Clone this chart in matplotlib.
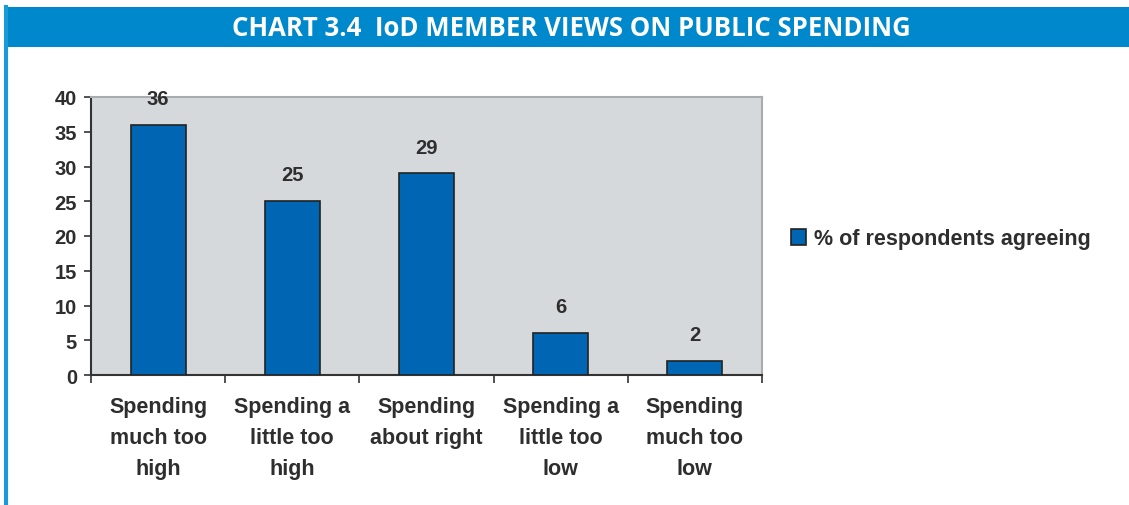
import matplotlib
matplotlib.use("Agg")
import matplotlib.pyplot as plt
from matplotlib.patches import Rectangle
from matplotlib.lines import Line2D

categories = ["Spending\nmuch too\nhigh", "Spending a\nlittle too\nhigh", "Spending\nabout right",
              "Spending a\nlittle too\nlow", "Spending\nmuch too\nlow"]
values = [36, 25, 29, 6, 2]
series_name = "% of respondents agreeing"
yticks = [0, 5, 10, 15, 20, 25, 30, 35, 40]
title = "CHART 3.4  IoD MEMBER VIEWS ON PUBLIC SPENDING"

BAR = "#0066B3"
HEADER = "#0088CC"
PANEL = "#D5D9DC"
TEXT = "#2E2E2E"

plt.rcParams["font.family"] = ["Liberation Sans", "DejaVu Sans"]

fig = plt.figure(figsize=(11.29, 5.06), dpi=100)
fig.patch.set_facecolor("white")

# header band and left rule
fig.patches.append(Rectangle((4 / 1129, 1 - 48 / 506), 1, 40 / 506, transform=fig.transFigure,
                             facecolor=HEADER, edgecolor="none", zorder=0))
fig.lines.append(Line2D([5.5 / 1129, 5.5 / 1129], [0, 1 - 8 / 506], transform=fig.transFigure,
                        color="#1A9AD8", lw=3, zorder=1))
fig.text(571 / 1129, 1 - 28 / 506, title, color="white", fontsize=18.5, fontweight="bold",
         family=["Open Sans", "DejaVu Sans"], ha="center", va="center")

ax = fig.add_axes([91 / 1129, 1 - 376 / 506, 671 / 1129, 278 / 506])
ax.set_facecolor(PANEL)
x = list(range(len(values)))
bars = ax.bar(x, values, width=0.41, color=BAR, edgecolor="#222222", linewidth=1.2,
              label=series_name, zorder=3)
for xi, v in zip(x, values):
    ax.annotate(f"{v}", (xi, v), xytext=(0, 19), textcoords="offset points",
                ha="center", va="center", fontsize=14.5, fontweight="bold", color=TEXT)

ax.set_xlim(-0.5, len(values) - 0.5)
ax.set_ylim(0, 40)
ax.set_yticks(yticks)
ax.set_yticklabels([str(t) for t in yticks], fontsize=14.5, fontweight="bold", color=TEXT)
ax.tick_params(axis="y", direction="out", length=5, width=1.2, color="#333333", pad=5)

ax.set_xticks(x)
ax.set_xticklabels(categories, fontsize=15.5, fontweight="bold", color=TEXT, linespacing=1.62)
ax.tick_params(axis="x", which="major", length=0, pad=15)
ax.set_xticks([i - 0.5 for i in range(len(values) + 1)], minor=True)
ax.tick_params(axis="x", which="minor", direction="out", length=6, width=1.2, color="#333333")

for side in ("top", "right"):
    ax.spines[side].set_color("#A8ACAF")
    ax.spines[side].set_linewidth(1.5)
for side in ("left", "bottom"):
    ax.spines[side].set_color("#333333")
    ax.spines[side].set_linewidth(1.5)

leg = fig.legend(handles=[bars], labels=[series_name], loc="center left",
                 bbox_to_anchor=(782 / 1129, 1 - 240 / 506), frameon=False,
                 prop={"size": 15.5, "weight": "bold"}, handlelength=0.7, handleheight=0.7,
                 handletextpad=0.4, borderaxespad=0)
for t in leg.get_texts():
    t.set_color(TEXT)

fig.savefig("out.png", dpi=100)
